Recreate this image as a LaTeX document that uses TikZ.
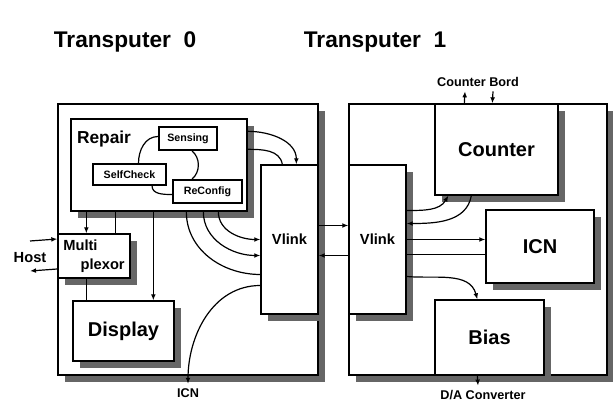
\documentclass[tikz,border=0pt]{standalone}
\usepackage{fontspec}
\setmainfont{Liberation Sans}
\usetikzlibrary{arrows.meta, positioning, calc, fit, shadows}

\begin{document}
\begin{tikzpicture}[
    x=0.75pt, y=0.75pt,
    >={Latex[length=4.5pt, width=3.6pt]},
    unit/.style={
        draw,
        line width=1pt,
        fill=white,
        inner sep=0pt,
        drop shadow={shadow xshift=5.5pt, shadow yshift=-5.5pt, fill=black!60, opacity=1}
    },
    subunit/.style={draw, line width=1.4pt, fill=white, inner sep=0pt},
    bigtext/.style={font=\fontsize{15}{18}\selectfont\bfseries},
    midtext/.style={font=\fontsize{11}{14}\selectfont\bfseries},
    smalltext/.style={font=\fontsize{8}{10}\selectfont\bfseries},
    tagtext/.style={font=\fontsize{9.5}{11}\selectfont\bfseries},
    wire/.style={line width=0.9pt},
    arr/.style={wire, ->}
]
\useasboundingbox (0,0) rectangle (613,402);

% titles
\node[font=\fontsize{17}{20}\selectfont\bfseries] (t0) at (125,360) {Transputer\ \ 0};
\node[font=\fontsize{17}{20}\selectfont\bfseries] (t1) at (375,360) {Transputer\ \ 1};

% transputer boards
\node[unit, fit={(58,27) (318,298)}] (tp0) {};
\node[unit, fit={(349,27) (607,298)}] (tp1) {};

% transputer 0
\node[unit, fit={(71,191) (247,283)}] (repair) {};
\node[font=\fontsize{13}{15}\selectfont\bfseries, anchor=north west] (repairlbl)
    at ($(repair.north west)+(2,-8)$) {Repair};
\node[subunit, fit={(159,252) (217,275)}, label={[smalltext]center:Sensing}] (sensing) {};
\node[subunit, fit={(93,217) (166,238)}, label={[smalltext]center:SelfCheck}] (selfcheck) {};
\node[subunit, fit={(173,199) (242,222)}, label={[smalltext]center:ReConfig}] (reconfig) {};
\node[unit, fit={(58,124) (130,168)},
    label={[midtext, align=left]center:Multi\\\hspace*{13pt}plexor}] (mux) {};
\node[unit, fit={(73,41) (174,101)}, label={[bigtext]center:Display}] (display) {};
\node[unit, fit={(261,88) (318,237)}, label={[midtext]center:Vlink}] (vlinkA) {};

% transputer 1
\node[unit, fit={(349,88) (406,237)}, label={[midtext]center:Vlink}] (vlinkB) {};
\node[unit, fit={(435,207) (558,298)}, label={[bigtext]center:Counter}] (counter) {};
\node[unit, fit={(486,119) (594,192)}, label={[bigtext]center:ICN}] (icn) {};
\node[unit, fit={(435,27) (544,102)}, label={[bigtext]center:Bias}] (bias) {};

% outside
\node[midtext] (host) at (30,144) {Host};
\node[tagtext] (cbord) at (478,320) {Counter Bord};
\node[tagtext] (dac) at (483,7) {D/A Converter};
\node[tagtext] (icnlbl) at (188,9) {ICN};

% inside repair
\draw[wire] ($(selfcheck.north)+(9,0)$) to[out=90, in=180] ($(sensing.west)+(0,2)$);
\draw[wire] ($(sensing.south west)+(34,0)$) to[bend left=50] ($(reconfig.north west)+(20,0)$);
\draw[wire] ($(selfcheck.south west)+(60,0)$) to[out=-90, in=180] ($(reconfig.west)+(0,-3)$);

% repair, multiplexor, display
\draw[arr] ($(repair.south west)+(16,0)$) -- ($(mux.north west)+(29,0)$);
\draw[wire] ($(mux.north west)+(58,0)$) -- ($(repair.south west)+(45,0)$);
\draw[arr] ($(repair.south west)+(83,0)$) -- ($(display.north west)+(81,0)$);
\draw[wire] ($(mux.south west)+(29,0)$) -- ($(display.north west)+(14,0)$);
\draw[arr] ($(host.center)+(0,17)$) -- ($(mux.west)+(0,17)$);
\draw[arr] ($(mux.west)+(0,-13)$) -- ($(host.center)+(0,-13)$);

% repair to vlink
\draw[arr] ($(repair.north east)+(0,-13)$) to[out=0, in=90] ($(vlinkA.north west)+(36,0)$);
\draw[wire] ($(repair.north east)+(0,-31)$) to[out=0, in=100] ($(vlinkA.north west)+(22,0)$);
\draw[wire] ($(repair.south west)+(116,0)$) to[out=-90, in=180] ($(vlinkA.west)+(0,-35)$);
\draw[arr] ($(repair.south west)+(133,0)$) to[out=-90, in=180] ($(vlinkA.west)+(0,-16)$);
\draw[arr] ($(repair.south west)+(148,0)$) to[out=-90, in=180] (vlinkA.west);
\draw[arr] ($(vlinkA.west)+(0,-46)$) to[out=180, in=90] (icnlbl.north);

% vlink to vlink
\draw[arr] ($(vlinkA.east)+(0,14)$) -- ($(vlinkB.west)+(0,14)$);
\draw[arr] ($(vlinkB.west)+(0,-16)$) -- ($(vlinkA.east)+(0,-16)$);

% transputer 1 links
\draw[arr] ($(vlinkB.east)+(0,29)$) to[out=0, in=-120] ($(counter.south west)+(14,0)$);
\draw[arr] ($(counter.south west)+(37,0)$) to[out=-100, in=0] ($(vlinkB.east)+(0,16)$);
\draw[arr] (vlinkB.east) -- ($(icn.west)+(0,7)$);
\draw[wire] ($(vlinkB.east)+(0,-15)$) -- ($(icn.west)+(0,-8)$);
\draw[arr] ($(vlinkB.east)+(0,-37)$) to[out=-5, in=105] ($(bias.north west)+(43,0)$);
\draw[arr] ($(counter.north west)+(30,0)$) -- ($(cbord.south)+(-13,0)$);
\draw[arr] ($(cbord.south)+(15,0)$) -- ($(counter.north west)+(58,0)$);
\draw[arr] ($(bias.south west)+(43,0)$) -- ($(dac.north)+(-5,0)$);
\end{tikzpicture}
\end{document}
